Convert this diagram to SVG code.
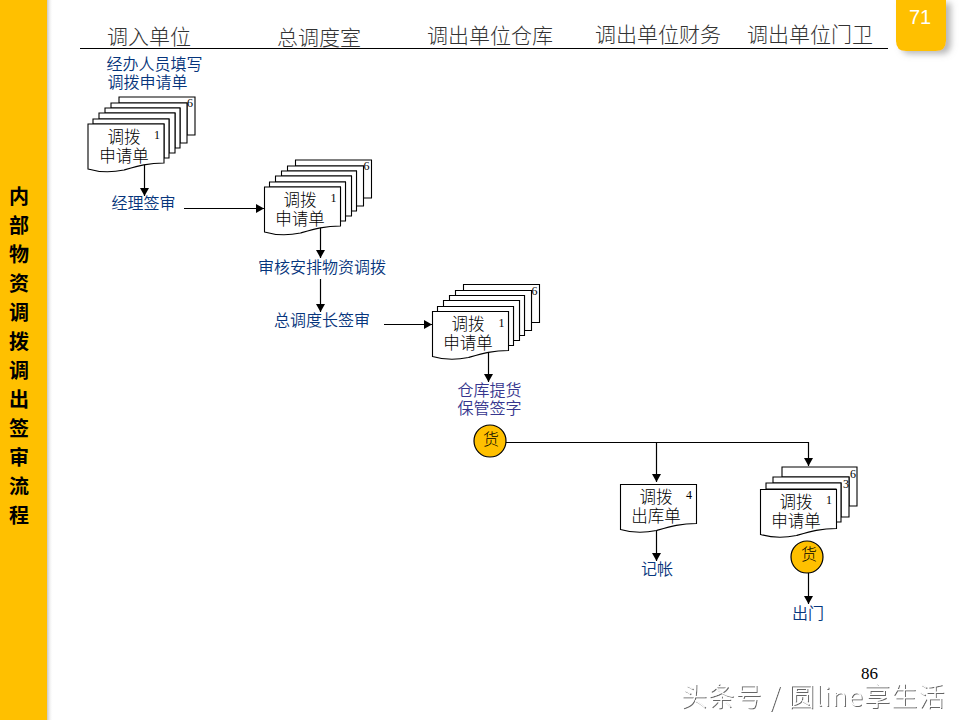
<svg xmlns="http://www.w3.org/2000/svg" width="960" height="720" viewBox="0 0 960 720">
<style>
text{font-family:"Noto Sans CJK SC","Liberation Sans",sans-serif}
.sheet{fill:#fff;stroke:#000;stroke-width:1.1}
.line{fill:none;stroke:#000;stroke-width:1.2}
.head{font-size:21px;fill:#333;font-weight:300}
.doc{font-size:16.500px;fill:#000;text-anchor:middle;font-weight:300}
.blue{font-size:16px;fill:#06357c;text-anchor:middle;font-weight:350}
.purple{font-size:16px;fill:#36368e;text-anchor:middle;font-weight:350}
.num{font-family:"Liberation Serif",serif;font-size:12px;fill:#000}
.side{font-size:20px;font-weight:700;fill:#000;text-anchor:middle}
.coin{fill:#ffc000;stroke:#000;stroke-width:1.2}
.cointxt{font-size:16px;fill:#000;text-anchor:middle;font-weight:300}
</style>
<defs>
<marker id="arrow" markerUnits="userSpaceOnUse" markerWidth="9" markerHeight="10" refX="8" refY="5" orient="auto"><path d="M0 0.500L8 5L0 9.500Z" fill="#000"/></marker>
<linearGradient id="sideShade" x1="0" x2="1" y1="0" y2="0"><stop offset="0" stop-color="#999" stop-opacity=".55"/><stop offset="1" stop-color="#fff" stop-opacity="0"/></linearGradient>
<filter id="badgeShadow" x="-20%" y="-20%" width="150%" height="150%"><feDropShadow dx="5" dy="3" stdDeviation="3" flood-color="#888" flood-opacity=".6"/></filter>
<filter id="txtShadow" x="-10%" y="-20%" width="120%" height="150%"><feDropShadow dx="1" dy="1" stdDeviation=".6" flood-color="#555" flood-opacity=".9"/></filter>
<path id="wave" d="M0 0H76V39C60 39 50 42 36 46C22 49 10 48 0 45Z" class="sheet"/>
<g id="stack">
<path class="sheet" d="M31 -27H107V11H99V-21H31Z"/>
<path class="sheet" d="M23 -21H99V19H92V-16H23Z"/>
<path class="sheet" d="M17 -16H92V24H87V-11H17Z"/>
<path class="sheet" d="M11 -11H87V29H81V-5H11Z"/>
<path class="sheet" d="M5 -5H81V34H76V0H5Z"/>
<use href="#wave"/>
<text class="num" x="99" y="-17">6</text>
<text class="num" x="66" y="15">1</text>
</g>
</defs>
<rect width="960" height="720" fill="#fff"/>
<g id="sidebar">
<rect x="47" y="0" width="6" height="720" fill="url(#sideShade)"/>
<rect x="0" y="0" width="47" height="720" fill="#ffc000"/>
<text class="side" x="19" y="204">内</text>
<text class="side" x="19" y="233">部</text>
<text class="side" x="19" y="262">物</text>
<text class="side" x="19" y="291">资</text>
<text class="side" x="19" y="320">调</text>
<text class="side" x="19" y="349">拨</text>
<text class="side" x="19" y="378">调</text>
<text class="side" x="19" y="407">出</text>
<text class="side" x="19" y="436">签</text>
<text class="side" x="19" y="465">审</text>
<text class="side" x="19" y="494">流</text>
<text class="side" x="19" y="523">程</text>
</g>
<g id="badge">
<path d="M896 0H946V41Q946 51 936 51H906Q896 51 896 41Z" fill="#ffc000" filter="url(#badgeShadow)"/>
<text x="920" y="24" font-size="20" fill="#fff" text-anchor="middle" style="font-family:'Liberation Sans',sans-serif">71</text>
</g>
<g id="header">
<line x1="80" y1="48.500" x2="888" y2="48.500" stroke="#000" stroke-width="1.200"/>
<text class="head" x="107" y="44">调入单位</text>
<text class="head" x="277" y="45">总调度室</text>
<text class="head" x="427" y="43">调出单位仓库</text>
<text class="head" x="595" y="42">调出单位财务</text>
<text class="head" x="747" y="42">调出单位门卫</text>
</g>
<g id="connectors">
<line class="line" x1="144.500" y1="164" x2="144.500" y2="196" marker-end="url(#arrow)"/>
<line class="line" x1="184" y1="208.500" x2="264" y2="208.500" marker-end="url(#arrow)"/>
<line class="line" x1="320.500" y1="228" x2="320.500" y2="258" marker-end="url(#arrow)"/>
<line class="line" x1="320.500" y1="279" x2="320.500" y2="312" marker-end="url(#arrow)"/>
<line class="line" x1="384" y1="324.500" x2="432" y2="324.500" marker-end="url(#arrow)"/>
<line class="line" x1="488.500" y1="352" x2="488.500" y2="382" marker-end="url(#arrow)"/>
<line class="line" x1="506" y1="442.500" x2="808.500" y2="442.500"/>
<line class="line" x1="656.500" y1="442" x2="656.500" y2="482" marker-end="url(#arrow)"/>
<line class="line" x1="808.500" y1="442" x2="808.500" y2="466" marker-end="url(#arrow)"/>
<line class="line" x1="656.500" y1="530" x2="656.500" y2="561" marker-end="url(#arrow)"/>
<line class="line" x1="808.500" y1="573" x2="808.500" y2="604" marker-end="url(#arrow)"/>
</g>
<g id="label-fill">
<text class="blue" x="154.500" y="70">经办人员填写</text>
<text class="blue" x="147.500" y="88">调拨申请单</text>
</g>
<g id="doc-stack-1">
<use href="#stack" x="88" y="124"/>
<text class="doc" x="124" y="143">调拨</text>
<text class="doc" x="124" y="162">申请单</text>
</g>
<g id="label-manager"><text class="blue" x="143.500" y="209">经理签审</text></g>
<g id="doc-stack-2">
<use href="#stack" x="264.500" y="187"/>
<text class="doc" x="300" y="206">调拨</text>
<text class="doc" x="300" y="225">申请单</text>
</g>
<g id="label-review"><text class="blue" x="322" y="273">审核安排物资调拨</text></g>
<g id="label-chief"><text class="blue" x="322" y="326">总调度长签审</text></g>
<g id="doc-stack-3">
<use href="#stack" x="432.500" y="311.500"/>
<text class="doc" x="468" y="330">调拨</text>
<text class="doc" x="468" y="349">申请单</text>
</g>
<g id="label-warehouse">
<text class="purple" x="489.500" y="396">仓库提货</text>
<text class="purple" x="489.500" y="414">保管签字</text>
</g>
<g id="goods-1">
<circle class="coin" cx="490" cy="441" r="16"/>
<text class="cointxt" x="491" y="445">货</text>
</g>
<g id="doc-out">
<use href="#wave" x="620.500" y="484.500"/>
<text class="num" x="686" y="499">4</text>
<text class="doc" x="656" y="503">调拨</text>
<text class="doc" x="656" y="522">出库单</text>
</g>
<g id="label-account"><text class="blue" x="657" y="575">记帐</text></g>
<g id="doc-stack-4">
<path class="sheet" d="M782 467H857V506H849V477H782Z"/>
<path class="sheet" d="M773 477H849V517H841V483H773Z"/>
<path class="sheet" d="M766 483H841V522H836V489H766Z"/>
<use href="#wave" x="760.500" y="489.500"/>
<text class="num" x="850" y="478">6</text>
<text class="num" x="843" y="488">3</text>
<text class="num" x="826" y="504">1</text>
<text class="doc" x="796" y="508">调拨</text>
<text class="doc" x="796" y="527">申请单</text>
</g>
<g id="goods-2">
<circle class="coin" cx="807" cy="557" r="16"/>
<text class="cointxt" x="809" y="560">货</text>
</g>
<g id="label-exit"><text class="blue" x="808" y="619">出门</text></g>
<g id="page-number"><text x="861" y="679" font-size="17" fill="#000" style="font-family:'Liberation Serif',serif">86</text></g>
<g id="watermark"><text x="681" y="706" font-size="26" letter-spacing="1.300" fill="#fff" filter="url(#txtShadow)" style="font-weight:300">头条号 / 圆line享生活</text></g>
</svg>
